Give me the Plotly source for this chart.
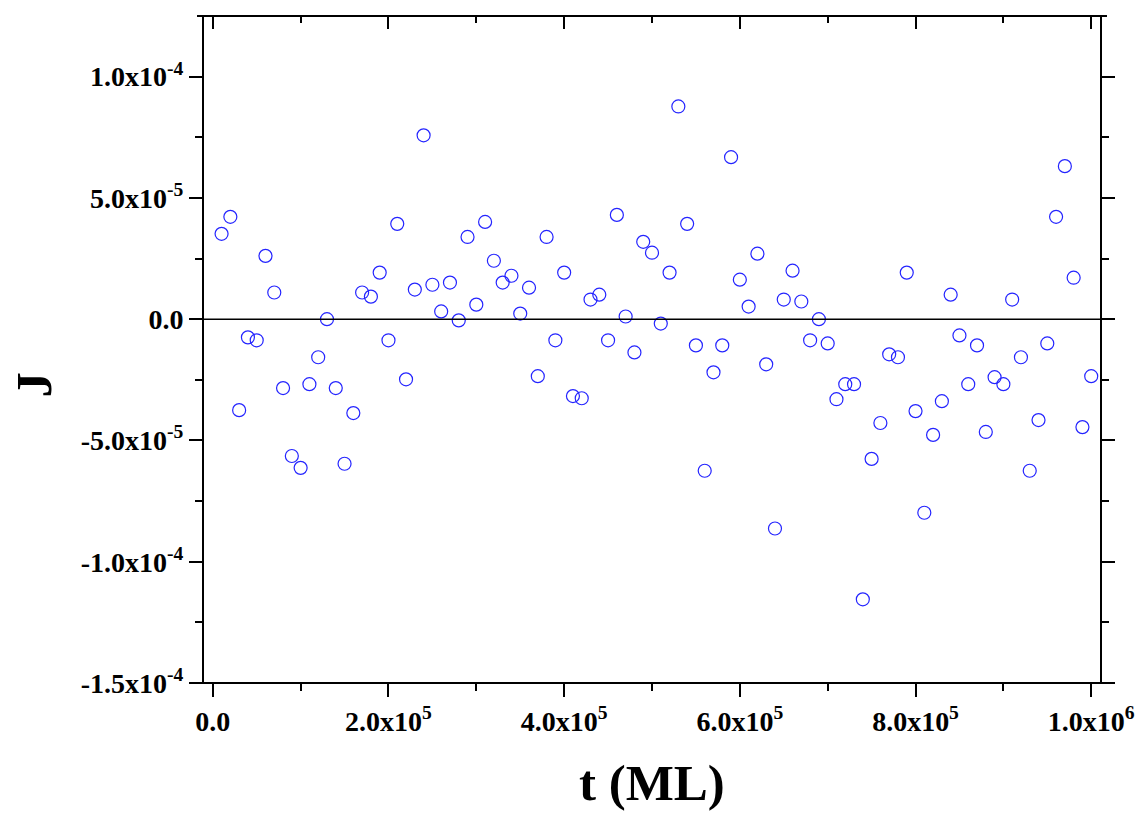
import plotly.graph_objects as go

# Data
t_values = [i * 1e4 for i in range(1, 101)]
J_values = [
    3.52e-5, 4.22e-5, -3.75e-5, -0.75e-5, -0.87e-5, 2.61e-5, 1.10e-5, -2.84e-5, -5.64e-5, -6.13e-5,
    -2.68e-5, -1.57e-5, 0.0, -2.84e-5, -5.96e-5, -3.87e-5, 1.10e-5, 0.93e-5, 1.92e-5, -0.87e-5,
    3.93e-5, -2.48e-5, 1.22e-5, 7.58e-5, 1.42e-5, 0.32e-5, 1.51e-5, -0.05e-5, 3.39e-5, 0.60e-5,
    4.01e-5, 2.41e-5, 1.51e-5, 1.79e-5, 0.23e-5, 1.30e-5, -2.35e-5, 3.39e-5, -0.87e-5, 1.92e-5,
    -3.17e-5, -3.26e-5, 0.81e-5, 1.01e-5, -0.87e-5, 4.30e-5, 0.11e-5, -1.37e-5, 3.19e-5, 2.74e-5,
    -0.18e-5, 1.92e-5, 8.77e-5, 3.93e-5, -1.08e-5, -6.25e-5, -2.19e-5, -1.08e-5, 6.68e-5, 1.63e-5,
    0.52e-5, 2.70e-5, -1.86e-5, -8.63e-5, 0.81e-5, 2.00e-5, 0.73e-5, -0.87e-5, 0.0, -1.00e-5,
    -3.30e-5, -2.68e-5, -2.68e-5, -11.55e-5, -5.76e-5, -4.28e-5, -1.45e-5, -1.57e-5, 1.92e-5, -3.79e-5,
    -7.98e-5, -4.77e-5, -3.38e-5, 1.01e-5, -0.67e-5, -2.68e-5, -1.08e-5, -4.65e-5, -2.39e-5, -2.68e-5,
    0.81e-5, -1.57e-5, -6.25e-5, -4.16e-5, -1.00e-5, 4.22e-5, 6.31e-5, 1.71e-5, -4.45e-5, -2.35e-5,
]

x_tickvals = [0, 2e5, 4e5, 6e5, 8e5, 1e6]
x_ticktext = ["0.0", "2.0x10<sup>5</sup>", "4.0x10<sup>5</sup>", "6.0x10<sup>5</sup>",
              "8.0x10<sup>5</sup>", "1.0x10<sup>6</sup>"]
x_minor = [1e5, 3e5, 5e5, 7e5, 9e5]
y_tickvals = [-1.5e-4, -1.0e-4, -5e-5, 0, 5e-5, 1.0e-4]
y_ticktext = ["-1.5x10<sup>-4</sup>", "-1.0x10<sup>-4</sup>", "-5.0x10<sup>-5</sup>", "0.0",
              "5.0x10<sup>-5</sup>", "1.0x10<sup>-4</sup>"]
y_minor = [-1.25e-4, -7.5e-5, -2.5e-5, 2.5e-5, 7.5e-5]

x_range = [-1e4, 1.01e6]
y_range = [-1.5e-4, 1.25e-4]

FONT = "Liberation Serif"
tickfont = dict(family=FONT, size=28, color="black", weight="bold")

fig = go.Figure()
fig.add_trace(go.Scatter(
    x=t_values, y=J_values, mode="markers",
    marker=dict(symbol="circle-open", size=13, color="#2424ff", line=dict(width=1.2, color="#2424ff")),
    showlegend=False, hoverinfo="skip",
))
# invisible trace so the top axis is drawn
fig.add_trace(go.Scatter(
    x=t_values, y=J_values, mode="markers", xaxis="x2",
    marker=dict(opacity=0), showlegend=False, hoverinfo="skip",
))

fig.update_layout(
    width=1140, height=814,
    margin=dict(l=204, r=40, t=16, b=131, autoexpand=False),
    paper_bgcolor="white", plot_bgcolor="white",
    xaxis=dict(
        range=x_range, tickmode="array", tickvals=x_tickvals, ticktext=x_ticktext,
        ticks="outside", ticklen=13, tickwidth=2, tickcolor="black",
        minor=dict(tickmode="array", tickvals=x_minor, ticks="outside", ticklen=7, tickwidth=2, tickcolor="black"),
        showline=False, showgrid=False, zeroline=False, tickfont=tickfont, automargin=False,
    ),
    xaxis2=dict(
        range=x_range, overlaying="x", side="top", tickmode="array", tickvals=x_tickvals,
        ticks="inside", ticklen=13, tickwidth=2, tickcolor="black", showticklabels=False,
        minor=dict(tickmode="array", tickvals=x_minor, ticks="inside", ticklen=7, tickwidth=2, tickcolor="black"),
        showline=False, showgrid=False, zeroline=False, automargin=False,
    ),
    yaxis=dict(
        range=y_range, tickmode="array", tickvals=y_tickvals, ticktext=y_ticktext,
        ticks="outside", ticklen=13, tickwidth=2, tickcolor="black",
        minor=dict(tickmode="array", tickvals=y_minor, ticks="outside", ticklen=7, tickwidth=2, tickcolor="black"),
        showline=True, linewidth=2, linecolor="black", mirror="ticks",
        showgrid=False, zeroline=False, tickfont=tickfont, automargin=False,
    ),
    annotations=[
        dict(text="<b>t (ML)</b>", xref="paper", yref="paper", x=0.5, y=-0.1955,
             xanchor="center", yanchor="bottom", showarrow=False,
             font=dict(family=FONT, size=51, color="black")),
        dict(text="<b>J</b>", xref="paper", yref="paper", x=-0.19, y=0.447,
             xanchor="center", yanchor="middle", showarrow=False, textangle=-90,
             font=dict(family=FONT, size=51, color="black")),
    ],
    shapes=[
        # zero line (extends slightly beyond the frame)
        dict(type="line", xref="paper", yref="y", x0=-0.0145, x1=1.0156, y0=0, y1=0,
             line=dict(color="black", width=1.5)),
        # bottom frame line
        dict(type="line", xref="paper", yref="paper", x0=-0.0145, x1=1.0145, y0=0, y1=0,
             line=dict(color="black", width=2)),
        # top frame line
        dict(type="line", xref="paper", yref="paper", x0=-0.0078, x1=1.0078, y0=1, y1=1,
             line=dict(color="black", width=2)),
    ],
)

fig.write_html("out.html")
